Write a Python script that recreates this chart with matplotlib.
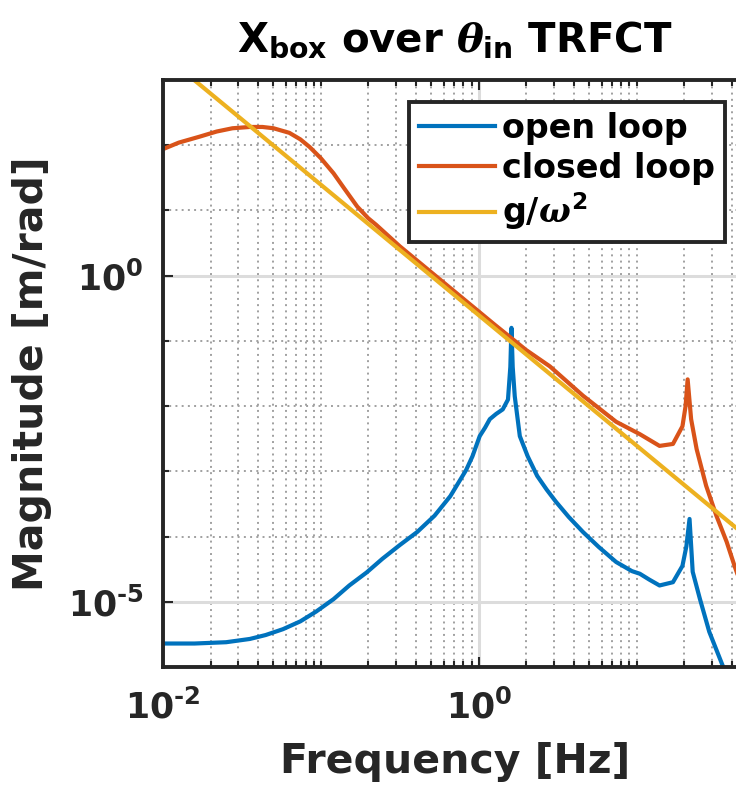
import numpy as np
import matplotlib
matplotlib.use("Agg")
import matplotlib.pyplot as plt
from matplotlib.ticker import FixedLocator, FuncFormatter, NullFormatter

plt.rcParams['font.family'] = ['DejaVu Sans']
plt.rcParams['font.weight'] = 'bold'
plt.rcParams['mathtext.fontset'] = 'custom'
plt.rcParams['mathtext.rm'] = 'DejaVu Sans:bold'
plt.rcParams['mathtext.bf'] = 'DejaVu Sans:bold'
plt.rcParams['mathtext.it'] = 'DejaVu Serif:italic'

# ---- data (log10 frequency [Hz], log10 magnitude [m/rad]) ----
open_logf = [-2.0, -1.8, -1.6, -1.45, -1.35, -1.24, -1.13, -1.03, -0.92, -0.82,
             -0.71, -0.61, -0.50, -0.39, -0.28, -0.18, -0.08, -0.04, 0.006, 0.04,
             0.07, 0.11, 0.152, 0.185, 0.20, 0.207, 0.215, 0.228, 0.26, 0.31,
             0.37, 0.43, 0.49, 0.57, 0.66, 0.76, 0.87, 0.97, 1.02, 1.08, 1.145,
             1.23, 1.29, 1.315, 1.335, 1.355, 1.40, 1.46, 1.545, 1.60, 1.70]
open_logm = [-5.64, -5.64, -5.62, -5.57, -5.51, -5.42, -5.30, -5.15, -4.96, -4.75,
             -4.55, -4.34, -4.13, -3.93, -3.68, -3.38, -2.98, -2.77, -2.46, -2.33,
             -2.20, -2.12, -2.05, -1.90, -1.40, -0.80, -1.40, -1.85, -2.46, -2.77,
             -3.07, -3.28, -3.47, -3.70, -3.93, -4.16, -4.39, -4.53, -4.57, -4.66, -4.75,
             -4.70, -4.45, -4.15, -3.73, -4.54, -4.95, -5.46, -5.98, -6.4, -7.2]

closed_logf = [-2.0, -1.9, -1.77, -1.66, -1.56, -1.45, -1.37, -1.30, -1.20, -1.13,
               -1.07, -1.00, -0.92, -0.85, -0.77, -0.70, -0.65, -0.5, -0.3, -0.1,
               0.1, 0.3, 0.45, 0.66, 0.87, 1.02, 1.145, 1.23, 1.29, 1.31, 1.323,
               1.345, 1.38, 1.44, 1.505, 1.57, 1.62, 1.70]
closed_logm = [1.94, 2.04, 2.13, 2.21, 2.26, 2.28, 2.28, 2.26, 2.19, 2.09,
               1.97, 1.80, 1.57, 1.33, 1.06, 0.88, 0.78, 0.45, 0.05, -0.35,
               -0.75, -1.14, -1.39, -1.84, -2.24, -2.43, -2.61, -2.58, -2.31, -2.00, -1.59,
               -2.20, -2.66, -3.22, -3.68, -4.08, -4.45, -5.00]

gw2_freq = [0.01, 50.0]
gw2_mag = [2.48e3, 9.9e-5]

labels = ['open loop', 'closed loop', r'g/$\omega^{\mathbf{2}}$']
colors = ['#0072BD', '#D95319', '#EDB120']

open_f = 10 ** np.array(open_logf)
open_m = 10 ** np.array(open_logm)
closed_f = 10 ** np.array(closed_logf)
closed_m = 10 ** np.array(closed_logm)

W, H = 736, 789
fig = plt.figure(figsize=(W / 100, H / 100), dpi=100)
ax = fig.add_axes([163 / W, (H - 667) / H, (747 - 163) / W, (667 - 80) / H])

lw = 3.0
ax.loglog(open_f, open_m, color=colors[0], lw=lw, label=labels[0])
ax.loglog(closed_f, closed_m, color=colors[1], lw=lw, label=labels[1])
ax.loglog(gw2_freq, gw2_mag, color=colors[2], lw=lw, label=labels[2])

ax.set_xlim(1e-2, 50)
ax.set_ylim(1e-6, 1e3)

ax.xaxis.set_major_locator(FixedLocator([1e-2, 1e0, 1e2]))
xminor = [m * 10.0 ** e for e in range(-2, 2) for m in range(1, 10)]
xminor = [v for v in xminor if v not in (1e-2, 1e0)]
ax.xaxis.set_minor_locator(FixedLocator(xminor))
ax.yaxis.set_major_locator(FixedLocator([1e-5, 1e0]))
ax.yaxis.set_minor_locator(FixedLocator([10.0 ** e for e in range(-6, 4) if e not in (-5, 0)]))


def fmt_func(v, p):
    e = int(round(np.log10(v)))
    s = str(e).replace('-', '\u2010')
    return r'$\mathbf{10^{%s}}$' % s


fmt = FuncFormatter(fmt_func)
ax.xaxis.set_major_formatter(fmt)
ax.yaxis.set_major_formatter(fmt)
ax.xaxis.set_minor_formatter(NullFormatter())
ax.yaxis.set_minor_formatter(NullFormatter())

txtc = '#262626'
ax.tick_params(which='both', direction='in', top=True, right=True, colors=txtc,
               width=1.5, labelsize=25)
ax.tick_params(which='major', length=7)
ax.tick_params(which='minor', length=4)
ax.tick_params(axis='x', pad=16)
ax.tick_params(axis='y', pad=14)

ax.set_axisbelow(True)
ax.grid(which='major', ls='-', color='#dcdcdc', lw=2.2)
ax.grid(which='minor', ls=(0, (1, 2.2)), color='#a0a0a0', lw=1.4)

for s in ax.spines.values():
    s.set_linewidth(2.8)
    s.set_color(txtc)

ax.set_xlabel('Frequency [Hz]', fontsize=29.5, fontweight='bold', color=txtc, labelpad=12)
ax.set_ylabel('Magnitude [m/rad]', fontsize=29.5, fontweight='bold', color=txtc, labelpad=11)
ax.set_title(r'X$_{\mathbf{box}}$ over $\theta_{\mathbf{in}}$ TRFCT',
             fontsize=29, fontweight='bold', color='black', pad=20)

leg = ax.legend(loc='upper right', bbox_to_anchor=(725 / W, (H - 102) / H),
                bbox_transform=fig.transFigure, fontsize=24, frameon=True,
                fancybox=False, framealpha=1, edgecolor='#262626',
                handlelength=2.3, handletextpad=0.2, borderpad=0.3,
                labelspacing=0.2, borderaxespad=0)
leg.get_frame().set_linewidth(2.8)
for t in leg.get_texts():
    t.set_fontweight('bold')
    t.set_color('black')

fig.savefig('out.png', dpi=100)
